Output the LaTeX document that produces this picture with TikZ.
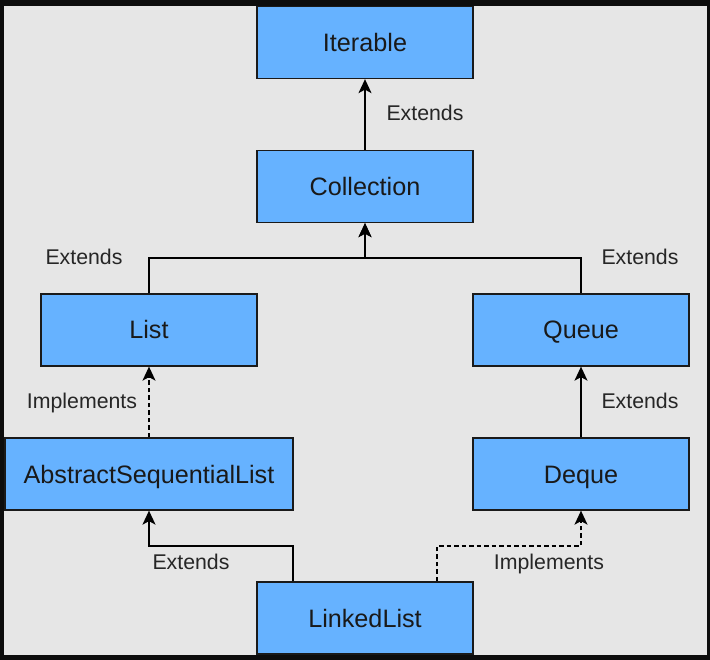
\documentclass[tikz,border=0pt]{standalone}
\usepackage{fontspec}
\setmainfont{Liberation Sans}
\usetikzlibrary{arrows.meta}
\definecolor{bgray}{HTML}{E6E6E6}
\definecolor{boxblue}{HTML}{66B2FF}
\definecolor{edge}{HTML}{1A1A1A}
\tikzset{
  cls/.style={draw=edge, fill=boxblue, line width=1.3pt, minimum width=216pt, minimum height=72pt, inner sep=0pt, font=\fontsize{25.2}{30}\selectfont, text=black!90, text height=18pt, text depth=0pt},
  lbl/.style={font=\fontsize{21.3}{25}\selectfont, text=black!85, inner sep=0pt, text height=15.3pt, text depth=0pt},
  conn/.style={line width=1.4pt, draw=black, -{Stealth[length=14pt,width=13pt,inset=3.5pt]}},
  impl/.style={conn, dash pattern=on 4.5pt off 3pt}
}
\begin{document}
\begin{tikzpicture}[x=1pt,y=-1pt]
\useasboundingbox (0,0) rectangle (710,660);
\fill[black!95] (0,0) rectangle (710,660);
\fill[bgray] (4,6) rectangle (707,655);
\node[cls] (iter) at (365,42.5) {Iterable};
\node[cls] (coll) at (365,186.5) {Collection};
\node[cls] (list) at (149,330) {List};
\node[cls] (queue) at (581,330) {Queue};
\node[cls, minimum width=288pt] (asl) at (149,474) {AbstractSequentialList};
\node[cls] (deque) at (581,474) {Deque};
\node[cls] (ll) at (365,618) {LinkedList};
\coordinate (llA) at ([xshift=-72pt]ll.north);
\coordinate (llB) at ([xshift=72pt]ll.north);
\draw[conn] (coll.north) -- (iter.south);
\draw[conn] (list.north) |- (365,258) -- (coll.south);
\draw[conn] (queue.north) |- (365,258) -- (coll.south);
\draw[impl] (asl.north) -- (list.south);
\draw[conn] (deque.north) -- (queue.south);
\draw[conn] (llA) |- (149,546) -- (asl.south);
\draw[impl] (llB) |- (581,546) -- (deque.south);
\node[lbl] (l1) at (425,113) {Extends};
\node[lbl] (l2) at (84,257) {Extends};
\node[lbl] (l3) at (640,257) {Extends};
\node[lbl] (l4) at (82,401) {Implements};
\node[lbl] (l5) at (640,401) {Extends};
\node[lbl] (l6) at (191,562) {Extends};
\node[lbl] (l7) at (549,562) {Implements};
\end{tikzpicture}
\end{document}
